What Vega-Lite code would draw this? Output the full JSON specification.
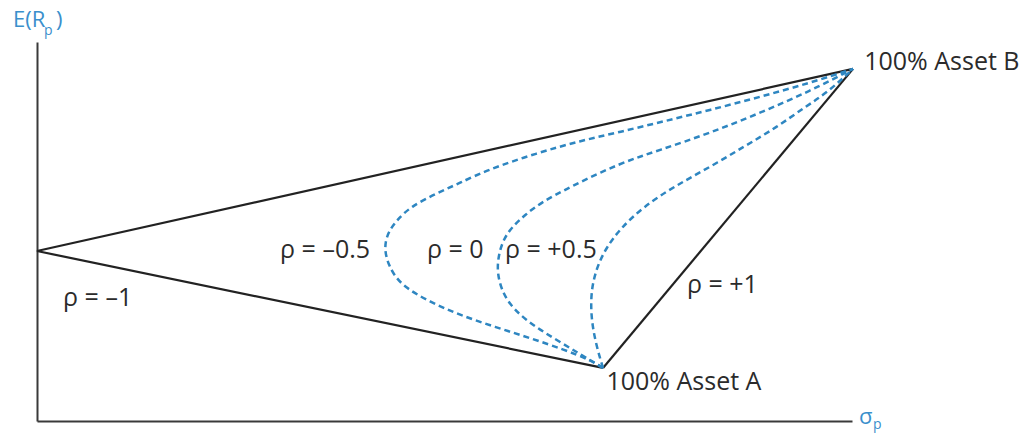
{
  "$schema": "https://vega.github.io/schema/vega-lite/v6.json",
  "width": 815,
  "height": 379,
  "autosize": {"type": "none"},
  "padding": {"left": 37, "top": 42, "right": 175, "bottom": 14},
  "background": "white",
  "config": {
    "view": {"stroke": null},
    "axis": {"domainColor": "#3a3a3a", "domainWidth": 2, "ticks": false, "labels": false, "grid": false}
  },
  "datasets": {
    "solid": [
      {"corr": "-1", "seq": 1, "sigma": 40.05, "ret": 18.58},
      {"corr": "-1", "seq": 2, "sigma": 0, "ret": 8.97},
      {"corr": "-1", "seq": 3, "sigma": 27.78, "ret": 2.80},
      {"corr": "+1", "seq": 1, "sigma": 27.78, "ret": 2.80},
      {"corr": "+1", "seq": 2, "sigma": 40.05, "ret": 18.58}
    ],
    "dashed": [
      {"corr": "-0.5", "seq": 1, "sigma": 27.78, "ret": 2.80},
      {"corr": "-0.5", "seq": 2, "sigma": 27.14, "ret": 3.22},
      {"corr": "-0.5", "seq": 3, "sigma": 25.91, "ret": 3.75},
      {"corr": "-0.5", "seq": 4, "sigma": 24.20, "ret": 4.38},
      {"corr": "-0.5", "seq": 5, "sigma": 22.48, "ret": 4.96},
      {"corr": "-0.5", "seq": 6, "sigma": 20.76, "ret": 5.59},
      {"corr": "-0.5", "seq": 7, "sigma": 19.29, "ret": 6.28},
      {"corr": "-0.5", "seq": 8, "sigma": 17.82, "ret": 7.18},
      {"corr": "-0.5", "seq": 9, "sigma": 17.23, "ret": 8.23},
      {"corr": "-0.5", "seq": 10, "sigma": 17.03, "ret": 9.18},
      {"corr": "-0.5", "seq": 11, "sigma": 17.23, "ret": 9.97},
      {"corr": "-0.5", "seq": 12, "sigma": 17.67, "ret": 10.61},
      {"corr": "-0.5", "seq": 13, "sigma": 18.31, "ret": 11.29},
      {"corr": "-0.5", "seq": 14, "sigma": 19.63, "ret": 12.03},
      {"corr": "-0.5", "seq": 15, "sigma": 20.76, "ret": 12.56},
      {"corr": "-0.5", "seq": 16, "sigma": 22.09, "ret": 13.25},
      {"corr": "-0.5", "seq": 17, "sigma": 24.54, "ret": 14.14},
      {"corr": "-0.5", "seq": 18, "sigma": 26.65, "ret": 14.78},
      {"corr": "-0.5", "seq": 19, "sigma": 28.61, "ret": 15.25},
      {"corr": "-0.5", "seq": 20, "sigma": 30.82, "ret": 15.83},
      {"corr": "-0.5", "seq": 21, "sigma": 33.03, "ret": 16.41},
      {"corr": "-0.5", "seq": 22, "sigma": 35.48, "ret": 17.10},
      {"corr": "-0.5", "seq": 23, "sigma": 37.94, "ret": 17.84},
      {"corr": "-0.5", "seq": 24, "sigma": 40.05, "ret": 18.58},
      {"corr": "0", "seq": 1, "sigma": 27.78, "ret": 2.80},
      {"corr": "0", "seq": 2, "sigma": 26.65, "ret": 3.54},
      {"corr": "0", "seq": 3, "sigma": 25.33, "ret": 4.38},
      {"corr": "0", "seq": 4, "sigma": 23.95, "ret": 5.33},
      {"corr": "0", "seq": 5, "sigma": 22.97, "ret": 6.39},
      {"corr": "0", "seq": 6, "sigma": 22.58, "ret": 7.70},
      {"corr": "0", "seq": 7, "sigma": 22.63, "ret": 8.65},
      {"corr": "0", "seq": 8, "sigma": 22.87, "ret": 9.55},
      {"corr": "0", "seq": 9, "sigma": 23.31, "ret": 10.24},
      {"corr": "0", "seq": 10, "sigma": 23.95, "ret": 10.87},
      {"corr": "0", "seq": 11, "sigma": 24.69, "ret": 11.50},
      {"corr": "0", "seq": 12, "sigma": 26.16, "ret": 12.35},
      {"corr": "0", "seq": 13, "sigma": 28.61, "ret": 13.61},
      {"corr": "0", "seq": 14, "sigma": 30.58, "ret": 14.30},
      {"corr": "0", "seq": 15, "sigma": 33.03, "ret": 15.20},
      {"corr": "0", "seq": 16, "sigma": 35.48, "ret": 16.25},
      {"corr": "0", "seq": 17, "sigma": 37.94, "ret": 17.41},
      {"corr": "0", "seq": 18, "sigma": 40.05, "ret": 18.58},
      {"corr": "+0.5", "seq": 1, "sigma": 27.78, "ret": 2.80},
      {"corr": "+0.5", "seq": 2, "sigma": 27.44, "ret": 4.01},
      {"corr": "+0.5", "seq": 3, "sigma": 27.19, "ret": 5.44},
      {"corr": "+0.5", "seq": 4, "sigma": 27.19, "ret": 6.91},
      {"corr": "+0.5", "seq": 5, "sigma": 27.48, "ret": 8.13},
      {"corr": "+0.5", "seq": 6, "sigma": 27.93, "ret": 9.13},
      {"corr": "+0.5", "seq": 7, "sigma": 28.61, "ret": 10.13},
      {"corr": "+0.5", "seq": 8, "sigma": 29.74, "ret": 11.29},
      {"corr": "+0.5", "seq": 9, "sigma": 31.31, "ret": 12.40},
      {"corr": "+0.5", "seq": 10, "sigma": 33.03, "ret": 13.40},
      {"corr": "+0.5", "seq": 11, "sigma": 34.75, "ret": 14.51},
      {"corr": "+0.5", "seq": 12, "sigma": 36.32, "ret": 15.51},
      {"corr": "+0.5", "seq": 13, "sigma": 37.69, "ret": 16.57},
      {"corr": "+0.5", "seq": 14, "sigma": 38.77, "ret": 17.31},
      {"corr": "+0.5", "seq": 15, "sigma": 40.05, "ret": 18.58}
    ],
    "labels": [
      {"sigma": 11.93, "ret": 9.02, "text": "ρ = –0.5"},
      {"sigma": 19.14, "ret": 9.02, "text": "ρ = 0"},
      {"sigma": 22.97, "ret": 9.02, "text": "ρ = +0.5"},
      {"sigma": 1.28, "ret": 6.49, "text": "ρ = –1"},
      {"sigma": 31.90, "ret": 7.18, "text": "ρ = +1"},
      {"sigma": 27.95, "ret": 2.06, "text": "100% Asset A"},
      {"sigma": 40.60, "ret": 18.94, "text": "100% Asset B"}
    ],
    "axisText": [
      {"sigma": -1.18, "ret": 21.16, "text": "E(R"},
      {"sigma": 0.93, "ret": 21.16, "text": ")"},
      {"sigma": 40.34, "ret": 0.2, "text": "σ"}
    ],
    "axisSub": [
      {"sigma": 0.34, "ret": 20.58, "text": "p"},
      {"sigma": 41.03, "ret": -0.2, "text": "p"}
    ]
  },
  "layer": [
    {
      "data": {"name": "solid"},
      "mark": {"type": "line", "color": "#222222", "strokeWidth": 2.2},
      "encoding": {
        "x": {"field": "sigma", "type": "quantitative", "scale": {"domain": [0, 40], "nice": false, "zero": false}, "title": null},
        "y": {"field": "ret", "type": "quantitative", "scale": {"domain": [0, 20], "nice": false, "zero": false}, "title": null},
        "detail": {"field": "corr"},
        "order": {"field": "seq", "type": "quantitative"}
      }
    },
    {
      "data": {"name": "dashed"},
      "mark": {"type": "line", "color": "#2e86c1", "strokeWidth": 2.5, "strokeDash": [6, 4], "interpolate": "basis"},
      "encoding": {
        "x": {"field": "sigma", "type": "quantitative", "scale": {"domain": [0, 40], "nice": false, "zero": false}, "title": null},
        "y": {"field": "ret", "type": "quantitative", "scale": {"domain": [0, 20], "nice": false, "zero": false}, "title": null},
        "detail": {"field": "corr"},
        "order": {"field": "seq", "type": "quantitative"}
      }
    },
    {
      "data": {"name": "labels"},
      "mark": {"type": "text", "align": "left", "baseline": "middle", "font": "Open Sans", "fontSize": 25, "color": "#2b2b2b"},
      "encoding": {
        "x": {"field": "sigma", "type": "quantitative", "scale": {"domain": [0, 40], "nice": false, "zero": false}, "title": null},
        "y": {"field": "ret", "type": "quantitative", "scale": {"domain": [0, 20], "nice": false, "zero": false}, "title": null},
        "text": {"field": "text"}
      }
    },
    {
      "data": {"name": "axisText"},
      "mark": {"type": "text", "align": "left", "baseline": "middle", "font": "Open Sans", "fontSize": 22, "color": "#3a8fcc"},
      "encoding": {
        "x": {"field": "sigma", "type": "quantitative", "scale": {"domain": [0, 40], "nice": false, "zero": false}, "title": null},
        "y": {"field": "ret", "type": "quantitative", "scale": {"domain": [0, 20], "nice": false, "zero": false}, "title": null},
        "text": {"field": "text"}
      }
    },
    {
      "data": {"name": "axisSub"},
      "mark": {"type": "text", "align": "left", "baseline": "middle", "font": "Open Sans", "fontSize": 14, "color": "#3a8fcc"},
      "encoding": {
        "x": {"field": "sigma", "type": "quantitative", "scale": {"domain": [0, 40], "nice": false, "zero": false}, "title": null},
        "y": {"field": "ret", "type": "quantitative", "scale": {"domain": [0, 20], "nice": false, "zero": false}, "title": null},
        "text": {"field": "text"}
      }
    }
  ]
}
